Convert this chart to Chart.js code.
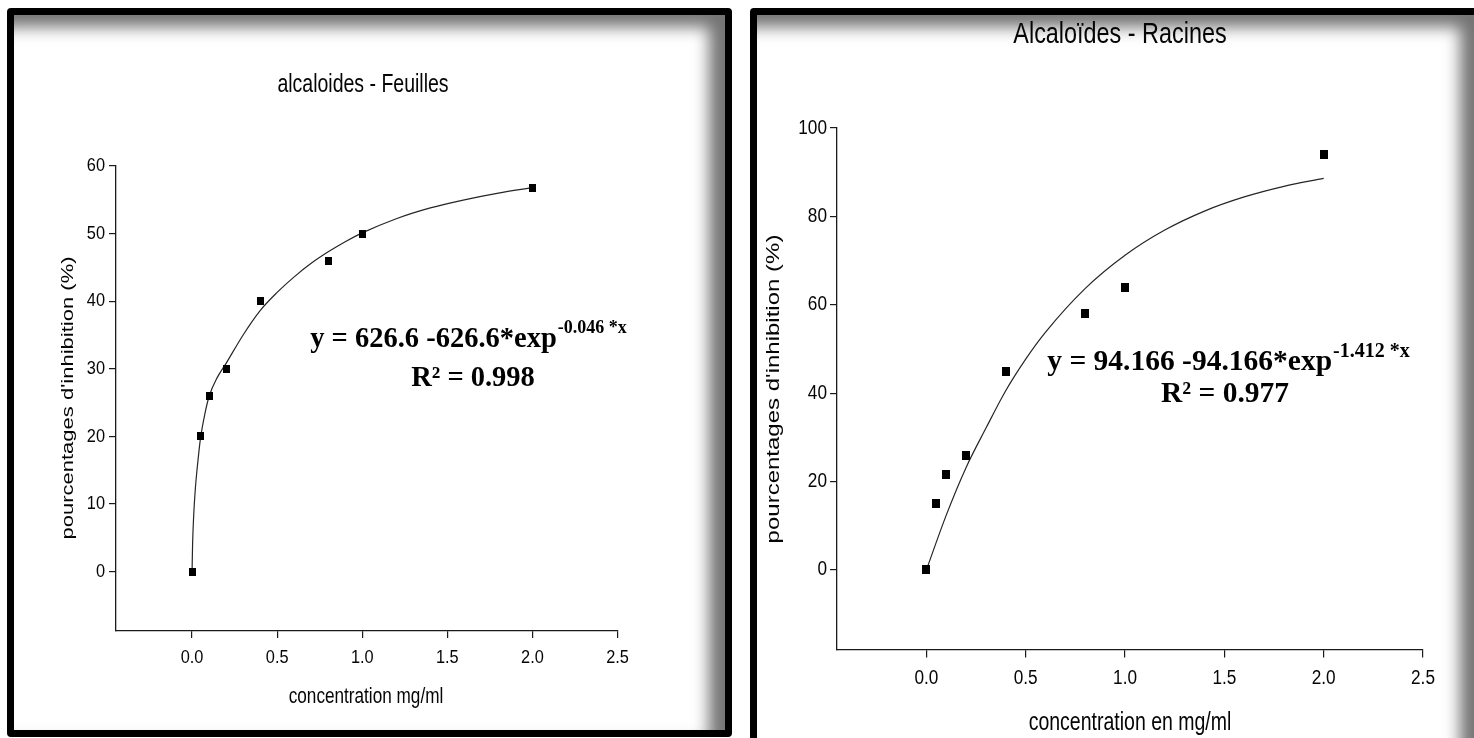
<!DOCTYPE html>
<html lang="fr">
<head>
<meta charset="utf-8">
<title>Alcaloïdes - pourcentages d'inhibition</title>
<script src="https://cdn.jsdelivr.net/npm/chart.js@4.4.1/dist/chart.umd.min.js"></script>
<style>
    html, body { margin: 0; padding: 0; background: #fff; }
    body { width: 1474px; height: 738px; position: relative; overflow: hidden; }
    .panel {
        position: absolute;
        box-sizing: border-box;
        border: 7px solid #000;
        border-radius: 4px;
        background: #fff;
        box-shadow: inset -16px 12px 16px 0 rgba(0, 0, 0, 0.55);
    }
    #panelLeft { left: 7px; top: 8px; width: 725px; height: 729px; }
    #panelRight { left: 750px; top: 8px; width: 733px; height: 760px; }
    canvas { position: absolute; top: 0; }
    #feuillesChart { left: 0; }
    #racinesChart { left: 740px; }
</style>
</head>
<body>
<div class="panel" id="panelLeft"></div>
<div class="panel" id="panelRight"></div>
<canvas id="feuillesChart" width="740" height="738"></canvas>
<canvas id="racinesChart" width="734" height="738"></canvas>

<script>
// measured points
const concentrations = [0, 0.05, 0.1, 0.2, 0.4, 0.8, 1.0, 2.0];
const inhibitionFeuilles = [0, 20, 26, 30, 40, 46, 50, 56.8];
const inhibitionRacines = [0, 15, 21.5, 26, 45, 58, 64, 94];

// fitted curves
const fitFeuillesX = [0, 0.003, 0.01, 0.02, 0.03, 0.04, 0.05, 0.075, 0.1, 0.15, 0.2, 0.3, 0.4, 0.5, 0.6, 0.7, 0.8, 0.9, 1.0, 1.2, 1.4, 1.6, 1.8, 2.0];
const fitFeuillesY = [0, 4, 8.5, 12.5, 15.3, 17.7, 19.8, 23.3, 25.9, 28.8, 30.8, 35, 38.6, 41.3, 43.6, 45.6, 47.3, 48.8, 50.1, 52.2, 53.8, 55.0, 56.0, 56.8];
const fitRacinesX = [0, 0.1, 0.2, 0.3, 0.4, 0.5, 0.6, 0.8, 1.0, 1.2, 1.4, 1.6, 1.8, 2.0];
const fitRacinesY = [0, 12.4, 23.2, 32.1, 40.6, 47.7, 53.8, 63.7, 71.2, 76.9, 81.2, 84.4, 86.8, 88.6];

const xTicks = [0, 0.5, 1.0, 1.5, 2.0, 2.5];
const yTicksFeuilles = [0, 10, 20, 30, 40, 50, 60];
const yTicksRacines = [0, 20, 40, 60, 80, 100];

// the plot text is a bit condensed horizontally
const SQUEEZE = 0.78;
const TICK_SQUEEZE = 0.86;
const SANS = '"Liberation Sans", Arial, sans-serif';
const SERIF = '"Liberation Serif", "Times New Roman", serif';

function squareMarker(w, h) {
    const c = document.createElement('canvas');
    c.width = w;
    c.height = h;
    const g = c.getContext('2d');
    g.fillStyle = '#000';
    g.fillRect(0, 0, w, h);
    return c;
}

function toPoints(xs, ys) {
    return xs.map((x, i) => ({ x: x, y: ys[i] }));
}

function drawNarrowText(ctx, t, vertical, align, squeeze) {
    const k = squeeze || SQUEEZE;
    ctx.save();
    ctx.translate(t.x, t.y);
    if (vertical) {
        ctx.rotate(-Math.PI / 2);
        ctx.scale(1, k);
    } else {
        ctx.scale(k, 1);
    }
    ctx.font = t.size + 'px ' + SANS;
    ctx.textAlign = align || 'center';
    ctx.textBaseline = 'middle';
    ctx.fillText(t.text, 0, 0);
    ctx.restore();
}

function drawTickLabels(ctx, chart, opts) {
    const xScale = chart.scales.x;
    const yScale = chart.scales.y;

    xScale.ticks.forEach(tick => {
        drawNarrowText(ctx, {
            text: tick.value.toFixed(1),
            x: xScale.getPixelForValue(tick.value),
            y: xScale.top + opts.xLabelOffset,
            size: opts.size
        }, false, 'center', TICK_SQUEEZE);
    });

    yScale.ticks.forEach(tick => {
        drawNarrowText(ctx, {
            text: String(tick.value),
            x: yScale.right - opts.yLabelOffset,
            y: yScale.getPixelForValue(tick.value),
            size: opts.size
        }, false, 'right', TICK_SQUEEZE);
    });
}

function drawEquation(ctx, eq) {
    ctx.save();
    ctx.fillStyle = '#000';
    ctx.textBaseline = 'alphabetic';
    ctx.textAlign = 'left';

    ctx.font = 'bold ' + eq.size + 'px ' + SERIF;
    const mainWidth = ctx.measureText(eq.main).width;
    ctx.font = 'bold ' + eq.supSize + 'px ' + SERIF;
    const supWidth = ctx.measureText(eq.sup).width;
    const left = eq.x - (mainWidth + supWidth) / 2;

    ctx.font = 'bold ' + eq.size + 'px ' + SERIF;
    ctx.fillText(eq.main, left, eq.y);
    ctx.font = 'bold ' + eq.supSize + 'px ' + SERIF;
    ctx.fillText(eq.sup, left + mainWidth + 1, eq.y - eq.rise);

    ctx.font = 'bold ' + eq.size + 'px ' + SERIF;
    ctx.textAlign = 'center';
    ctx.fillText(eq.r2, eq.x2, eq.y2);
    ctx.restore();
}

// titles, tick labels, axis titles and the fit equation
const panelText = {
    id: 'panelText',
    afterDraw(chart, args, opts) {
        const ctx = chart.ctx;
        ctx.save();
        ctx.fillStyle = '#050505';
        drawTickLabels(ctx, chart, opts.ticks);
        drawNarrowText(ctx, opts.title, false);
        drawNarrowText(ctx, opts.xTitle, false);
        drawNarrowText(ctx, opts.yTitle, true);
        ctx.restore();
        drawEquation(ctx, opts.equation);
    }
};

function buildChart(canvasId, cfg) {
    const ctx = document.getElementById(canvasId).getContext('2d');
    const axisColor = '#1a1a1a';

    return new Chart(ctx, {
        type: 'scatter',
        data: {
            datasets: [
                {
                    label: 'mesures',
                    data: toPoints(concentrations, cfg.values),
                    pointStyle: squareMarker(cfg.marker[0], cfg.marker[1]),
                    pointRadius: 4,
                    pointHoverRadius: 4,
                    showLine: false
                },
                {
                    label: 'ajustement',
                    data: toPoints(cfg.fitX, cfg.fitY),
                    showLine: true,
                    pointRadius: 0,
                    borderColor: '#262626',
                    borderWidth: 1.2,
                    cubicInterpolationMode: 'monotone',
                    fill: false
                }
            ]
        },
        options: {
            responsive: false,
            animation: false,
            devicePixelRatio: 1,
            layout: { padding: cfg.padding },
            plugins: {
                legend: { display: false },
                tooltip: { enabled: false },
                panelText: cfg.text
            },
            scales: {
                x: {
                    type: 'linear',
                    min: cfg.xMin,
                    max: 2.5,
                    afterBuildTicks: s => { s.ticks = xTicks.map(v => ({ value: v })); },
                    afterFit: s => { s.height = 50; },
                    grid: { drawOnChartArea: false, tickLength: cfg.xTickLength, color: axisColor, lineWidth: 1.2 },
                    border: { color: axisColor, width: 1.3 },
                    ticks: { display: false, autoSkip: false }
                },
                y: {
                    type: 'linear',
                    min: cfg.yMin,
                    max: cfg.yMax,
                    afterBuildTicks: s => { s.ticks = cfg.yTicks.map(v => ({ value: v })); },
                    afterFit: s => { s.width = 60; },
                    grid: { drawOnChartArea: false, tickLength: 7, color: axisColor, lineWidth: 1.2 },
                    border: { color: axisColor, width: 1.3 },
                    ticks: { display: false, autoSkip: false }
                }
            }
        },
        plugins: [panelText]
    });
}

buildChart('feuillesChart', {
    values: inhibitionFeuilles,
    fitX: fitFeuillesX,
    fitY: fitFeuillesY,
    yTicks: yTicksFeuilles,
    xMin: -0.447,
    yMin: -8.8,
    yMax: 60,
    marker: [7, 8],
    xTickLength: 7,
    // chart area: 116..617.5 by 166..631
    padding: { left: 56, top: 166, right: 122.5, bottom: 57 },
    text: {
        ticks: { size: 19, xLabelOffset: 27, yLabelOffset: 11 },
        title: { text: 'alcaloides - Feuilles', x: 363, y: 85, size: 25 },
        xTitle: { text: 'concentration mg/ml', x: 366, y: 697, size: 22 },
        yTitle: { text: "pourcentages d'inhibition (%)", x: 68, y: 398, size: 22 },
        equation: {
            main: 'y = 626.6 -626.6*exp', sup: '-0.046 *x', r2: 'R² = 0.998',
            x: 468, y: 347, size: 28.5, supSize: 18, rise: 14, x2: 473, y2: 386
        }
    }
});

buildChart('racinesChart', {
    values: inhibitionRacines,
    fitX: fitRacinesX,
    fitY: fitRacinesY,
    yTicks: yTicksRacines,
    xMin: -0.45,
    yMin: -18,
    yMax: 100,
    marker: [8, 9],
    xTickLength: 8,
    // chart area: 97..683 by 128..649.5 (canvas starts at x=740)
    padding: { left: 37, top: 128, right: 51, bottom: 38.5 },
    text: {
        ticks: { size: 20, xLabelOffset: 28.5, yLabelOffset: 10 },
        title: { text: 'Alcaloïdes - Racines', x: 380, y: 35, size: 30 },
        xTitle: { text: 'concentration en mg/ml', x: 390, y: 723, size: 25 },
        yTitle: { text: "pourcentages d'inhibition (%)", x: 34, y: 389, size: 24 },
        equation: {
            main: 'y = 94.166 -94.166*exp', sup: '-1.412 *x', r2: 'R² = 0.977',
            x: 488, y: 370, size: 29.5, supSize: 20, rise: 13, x2: 485, y2: 402
        }
    }
});
</script>
</body>
</html>
